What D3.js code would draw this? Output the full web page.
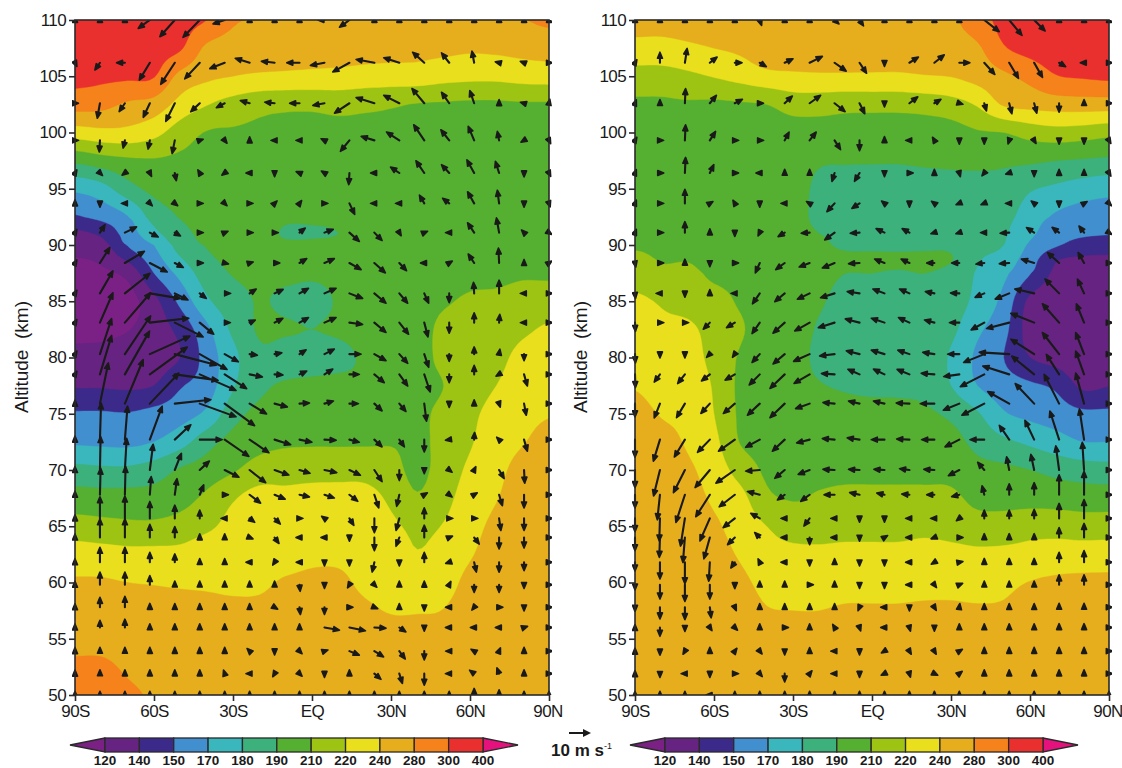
<!DOCTYPE html>
<html><head><meta charset="utf-8">
<script src="https://cdn.jsdelivr.net/npm/d3@7"></script>
<style>html,body{margin:0;padding:0;background:#fff}svg{display:block}
text{font-family:"Liberation Sans",Arial,sans-serif;fill:#1a1a1a}</style></head>
<body><svg id="c" width="1122" height="768"></svg>
<script>
// Colour-scale boundaries (K) and colours
const levels=[120,140,150,170,180,190,210,220,240,280,300,400];
const bandColors=["#662382","#3C2A8B","#428FCF","#3AB7BD","#3CB17C","#55AF30","#9DC313","#E9DF1C","#E6AE1D","#F5821A","#EA302E"];
const lowTip="#7B2186", highTip="#E5127E";
const latTicks=[-90,-60,-30,0,30,60,90];
const latLabels=["90S","60S","30S","EQ","30N","60N","90N"];
const altTicks=[50,55,60,65,70,75,80,85,90,95,100,105,110];

// Temperature grid latitudes (every 10 deg) and altitudes
const tempLat=d3.range(-90,91,10);
const tempAltA=[110,107.5,105,102.5,100,97.5,95,92.5,91,90,87.5,85,82.5,80,77.5,75,72.5,70,67.5,65,62.5,60,57.5,55,52.5,50];
const tempAltB=[110,107.5,105,102.5,100,97.5,95,92.5,91,90,88.75,87.5,85,82.5,80,77.5,75,72.5,70,67.5,65,62.5,60,57.5,55,52.5,50];

// Left panel temperatures, one list per latitude, top to bottom
const tempA=[
[390,360,330,288,230,194,172,149,135,126,112,106,114,126,138,152,167,183,199,214,230,244,258,270,283,290],
[385,355,320,286,234,201,176,156,142,132,116,108,114,128,138,152,166,182,198,213,228,244,256,268,283,287],
[380,350,315,274,234,206,186,169,159,151,126,112,119,131,137,151,165,182,198,212,226,240,254,264,276,282],
[365,335,305,264,226,208,195,184,177,170,150,134,130,132,140,156,170,185,198,212,226,239,252,262,272,278],
[330,310,268,233,215,206,198,191,187,184,173,155,143,140,149,162,176,192,203,214,226,238,250,260,268,276],
[300,272,248,221,209,205,201,196,194,191,185,178,165,158,160,172,186,199,212,218,232,238,248,258,266,274],
[282,262,240,216,208,204,202,198,197,195,191,186,182,177,179,186,197,208,219,226,231,237,246,256,264,272],
[280,264,237,213,207,204,201,198,197,196,193,191,192,188,188,195,204,214,228,229,232,237,248,260,268,274],
[276,260,236,212,206,202,199,193,189,193,194,188,192,186,192,198,207,216,225,229,232,244,254,262,270,276],
[274,258,235,212,205,201,198,193,189,193,193,186,190,185,195,202,208,216,228,231,236,248,256,264,270,276],
[274,258,234,213,205,201,198,194,190,194,195,192,193,187,196,202,208,216,229,232,237,246,256,264,270,276],
[274,256,232,212,206,202,199,197,196,197,198,198,197,193,194,201,208,216,228,233,235,237,246,260,268,274],
[274,254,231,211,207,203,200,198,198,198,199,200,201,201,203,205,209,213,218,224,229,234,239,254,264,272],
[274,252,231,209,205,202,200,199,199,200,201,202,203,204,205,207,208,206,211,218,221,230,239,252,262,270],
[276,250,227,208,205,202,201,200,200,201,203,208,212,212,210,212,212,214,217,221,227,232,241,252,262,270],
[276,246,225,207,204,202,201,201,202,203,206,211,213,215,216,218,219,224,229,233,238,252,262,270,275,278],
[276,248,225,207,204,202,202,203,204,205,208,211,214,217,220,226,231,235,239,250,260,268,274,278,278,279],
[279,252,228,208,205,203,203,204,205,206,209,212,218,226,230,235,239,252,260,268,272,276,278,278,278,278],
[283,256,229,208,206,204,204,205,206,207,208,214,223,228,233,239,250,260,266,270,274,276,278,278,278,278]];

// Right panel temperatures
const tempB=[
[256,233,216,207,206,205,205,206,207,208,212,215,224,228,234,239,250,256,260,264,266,268,270,272,272,274,274],
[254,233,216,207,206,205,205,205,206,207,209,212,219,224,230,234,239,250,256,260,264,266,268,270,272,272,274],
[260,236,218,208,206,205,204,204,205,206,209,212,216,224,228,232,235,238,246,254,260,264,268,270,272,274,274],
[268,240,221,207,205,203,202,202,203,204,205,207,213,216,217,219,220,225,231,237,246,254,260,264,268,272,274],
[274,248,227,208,204,202,201,201,202,203,204,206,208,211,208,206,207,209,216,226,232,238,248,256,262,268,272],
[278,264,234,210,203,200,199,198,198,199,200,200,201,201,200,200,201,204,207,212,220,228,235,242,254,264,272],
[278,268,236,214,202,199,198,196,196,197,198,198,198,198,197,196,199,202,206,209,215,226,233,240,252,262,270],
[278,268,237,214,202,192,188,188,190,194,198,195,192,189,188,191,197,202,206,211,216,224,232,240,252,262,270],
[276,266,237,213,201,191,188,187,188,188,195,190,187,186,186,189,196,201,206,212,216,226,233,244,254,264,270],
[274,262,237,213,200,191,187,186,187,188,194,190,187,186,186,188,196,201,206,212,216,226,233,244,254,264,270],
[272,260,237,213,200,191,187,186,186,187,195,189,187,185,185,188,195,201,206,212,216,226,233,244,254,264,270],
[272,260,239,214,200,192,187,185,186,188,194,190,186,184,184,187,193,200,206,212,217,228,234,246,256,264,270],
[274,264,241,216,202,193,187,185,185,188,191,187,185,182,179,180,188,197,204,212,216,226,234,246,256,264,270],
[290,274,254,222,208,194,187,184,183,183,181,179,177,172,166,170,181,187,196,205,214,224,233,244,254,262,268],
[335,298,272,244,210,193,187,183,181,180,176,172,164,156,150,159,171,182,194,204,214,225,236,244,254,262,268],
[385,335,286,252,214,193,181,175,172,167,159,151,135,131,140,153,165,178,190,203,216,227,241,252,260,266,270],
[395,360,299,258,216,190,178,167,158,152,141,135,127,126,132,148,160,174,187,202,216,229,246,254,260,266,270],
[395,375,310,260,215,189,175,161,153,146,137,131,125,123,126,136,154,170,185,200,215,229,248,254,260,266,270],
[395,380,320,260,213,188,173,160,151,145,136,130,124,122,125,139,154,170,184,200,215,230,248,256,262,268,270]];

// Wind vector grid: 20 latitudes, 25 altitudes
const windLat=d3.range(20).map(i=>-90+i*180/19);
const windAlt=[110,106.2,102.6,99.3,96.4,93.7,91.1,88.4,85.7,83.1,80.3,78.5,75.9,72.7,70,67.8,65.7,64,61.8,59.8,57.8,56,53.9,51.9,50];

// Left panel winds (m/s, vertical already magnified as drawn), one list per altitude
const uA=[
[0,0,0,-5.3,-6.8,-7.6,-5.3,0,0,0,-3,-4.5,0,0,0,0,0,0,0,0],
[.5,-2.3,-3.8,-4.8,-6.4,-6.8,-6.8,-6.5,-6,-5.8,-6.4,-7.6,-8.3,-7.1,-5.3,-3.5,-1,-.8,-.8,.5],
[.4,-1.2,-2.6,-3,-4.1,-4.1,-3.8,-4.2,-4.5,-4.5,-5.3,-6.8,-8.3,-7.1,-5.6,-3.5,-2,0,-.7,.2],
[.5,-.3,-.8,-.8,-1.2,.6,.4,0,-.5,-.5,-.6,-4.1,-6,-5.8,-4.8,-3.8,-2.7,-.8,-.5,.3],
[.3,.4,-.4,.3,.7,-.3,-.4,-.6,0,-.5,-.5,-.3,-.7,-4,-3.8,-3.5,-3.3,-1.7,0,.3],
[0,0,-.5,.3,.5,.5,.2,.4,.3,.3,.4,2.4,-.7,-.7,-2.2,-3,-3,-.8,0,.2],
[.3,2.3,5.3,3.8,2.6,.6,.5,.6,.7,2.6,4,4.5,3.5,.3,.5,-.6,-3,-1.2,-.4,.3],
[.3,4.5,8.9,7.9,3.9,.6,.8,.7,2,3.3,4.5,5.3,5,3.3,-.7,.5,-2.7,-.3,0,.3],
[.3,5.9,11.4,13.9,6,3,2.7,3,3.9,4.1,5.3,6,5.3,3.8,2,0,-.3,0,-.7,.4],
[.3,5.9,11.7,17.7,12.9,6.4,2.5,2.6,3.8,4.1,5.3,6,5.3,4.2,1.7,0,0,.3,-.6,.3],
[.3,5.3,11.7,18.2,18.9,12.4,6.2,3.5,3.3,3,4.5,5.3,5.3,3.8,2,0,0,.3,0,.3],
[.3,5.3,11.2,17,19.7,16.5,10,5.8,3.8,3.3,3.8,4.5,4.5,3.8,2.7,0,0,-.5,1.5,.3],
[0,3.8,8.3,13.2,16.4,16.5,13.6,7.7,5.8,4.5,4.1,4.1,3.5,3,1,0,0,.2,1,.3],
[0,.5,1.2,5.6,7.3,10.2,11,8.8,7.3,5.6,5.3,4.5,3.5,2.3,0,-.7,.2,-.3,1.5,.3],
[0,.3,.8,1.5,3,4.4,6.5,7.3,6.5,4.8,5.6,5,3.5,0,0,.5,.3,2.3,.3,.3],
[0,.3,.3,.6,1,1.8,.7,5,4.8,4.5,4.5,3.8,2,-1.2,.5,.5,.5,1.5,0,.3],
[0,0,0,0,0,0,-.6,2.3,2.6,.4,-.4,2,0,-1.5,0,.6,.6,.8,0,.3],
[0,0,0,0,0,0,0,.5,2,-.5,-.5,0,0,-1.5,0,.5,2.3,0,0,.3],
[0,0,0,0,0,0,0,-.6,-.2,-.3,0,0,-1,0,0,-.6,1,0,0,.3],
[0,0,0,0,0,0,0,0,0,.3,0,-.3,.3,0,0,.3,0,0,0,.3],
[0,0,0,0,0,0,0,0,.5,.4,0,.5,.5,0,0,-.6,-.4,.7,0,.3],
[0,0,0,0,0,0,0,0,0,0,6.8,7.3,5.3,3,0,-.7,-.7,-.7,.6,.3],
[0,0,0,0,0,0,0,-.4,0,.4,.6,4.5,4.2,2.7,0,-.5,-.5,.2,0,.3],
[0,0,0,0,0,0,-.2,-.6,-.3,.4,0,0,3,1.4,0,-.7,-2,-1,0,.3],
[0,0,0,0,0,0,0,0,0,0,0,0,0,0,0,0,0,0,0,0]];
const wA=[
[.6,.6,.6,-3.8,-7.6,-7.9,-1.8,.6,.6,.6,0,-3.3,.6,.6,.6,.6,.6,.6,.6,.6],
[-1,-3.3,0,-7.9,-9.8,-7.3,-2.7,2,.7,0,-1.2,-4.2,1.5,2.3,4.8,4.5,5.3,.2,.3,0],
[0,-6.8,-3.8,-6.4,-8.3,-3.9,-2,1.2,.5,0,-1,-4.5,2.6,3.6,6.7,5,5.8,.6,.2,1],
[0,-5.3,-3.5,-4,-6,.2,-.5,.5,0,0,.3,-5,1.8,3.8,7.1,4.8,6.4,4.1,-.3,-.6],
[.5,-.4,-.3,-.6,-3.5,.5,-.3,0,-.7,.2,.3,-5.3,0,2.7,5.6,3.8,6,5.3,-.8,-.6],
[.5,-.7,0,-.3,-.4,0,-.2,0,.3,.4,0,-5,0,0,3.8,2.3,5.3,6,-.7,-.6],
[.5,3.6,2.6,-2,-1.5,0,.2,0,0,2.1,1.5,-4,-3.6,-.5,.2,0,4.5,6.7,.4,-.2],
[.5,7.1,5.3,-4.1,-2,0,-.2,.2,0,2,2,-3,-4.5,-3.5,0,.3,4.1,6.8,.5,.2],
[.5,10.2,9.1,-2.3,-3,-2.3,0,2,1.8,2.3,2.3,-2.3,-4.5,-4.5,-4.5,-4.2,5,6,0,0],
[.5,13.6,13.6,2,-6.5,-5.3,0,1.2,2,2.3,2.3,-.8,-4.5,-5.3,-6.5,-4.8,4.5,3.8,0,0],
[.5,16.2,17.4,8.2,-5,-7,-3.5,-.5,.6,2,2.3,0,-3,-4.2,-6,-3.3,3.3,1.8,-3,0],
[.5,17.7,19.7,12.4,-2.7,-7.3,-6.5,-1.2,-.3,1.5,2.4,0,-3.8,-5.3,-8,-3.8,4.1,-.3,-5.3,0],
[.5,18.5,20,13.9,1.8,-6,-10,-4.7,-1.5,.3,1.2,0,-3.3,-3.6,-8,-.7,.7,-.6,-5.3,0],
[.5,16.7,15.2,15.2,6.8,0,-7.6,-6,-2.3,-1.2,-.3,-1.2,-3.3,-3.3,-5.6,-.1,3.3,.3,-5.3,0],
[.5,15.2,14.4,11.7,7.6,4.1,-3.3,-5.8,-2.3,-1.5,-1.2,-2.4,-5.3,-4.8,-.7,-.4,.6,-3.9,-6,0],
[.5,12.1,12.9,8.3,7.3,4.5,0,-3.8,-2,-1,-1.5,-3,-6,-5.3,.3,-.4,.3,-5,-6,0],
[.5,9.8,10.2,7.7,6,3.8,0,-1.8,-2.6,0,.3,-3.2,-6.5,-5.5,4.8,0,0,-5.5,-5.5,0],
[.5,8.5,8.5,6,5,.6,.7,-.2,-2.7,0,0,-.6,-6,-4,5.6,.2,-3,-5.2,-4.8,0],
[.5,6.8,6.8,4.5,3.8,.7,.7,0,-.3,0,-.7,-.7,-4.5,-.7,4.5,-.2,-4.5,-4.5,-3.8,0],
[.5,5.8,5.8,4.2,.7,.7,.7,.7,.7,-3,-.7,-.5,-.3,.7,.6,.6,-3.5,-3.5,-.7,0],
[.5,4.5,5,.8,.7,.7,.7,.7,-.3,-3.3,-3.3,0,-.2,.7,-.7,0,-.5,0,-.7,0],
[.5,3.3,3.8,.7,.7,.7,.7,.7,.7,.7,-1.2,-1.5,-.3,-2,-.7,0,0,0,.2,0],
[.5,.8,.8,.7,.7,.7,.7,.4,-.7,-.4,.2,-1.8,-2.6,-3.6,-4,0,.3,.5,.7,0],
[.5,.8,.7,.7,.7,.7,.6,0,-.5,-.4,-.7,.7,-2.6,-4.5,-5.3,0,1.5,2.7,.7,0],
[.7,.7,.7,.7,.7,.7,.7,.7,.7,.7,.7,.7,.7,.7,.7,.7,3,2,.7,.7]];

// Right panel winds
const uB=[
[0,0,0,0,0,.8,0,0,2,1.8,0,0,0,0,6.8,5.8,5,0,0,0],
[.3,0,1,3.3,3.3,3,3.8,5.8,5.3,3.2,0,4.1,4.5,4.8,4.8,4.2,3.8,3,-.7,.5],
[.2,0,.3,3,3.5,.7,3.5,5,4.8,2.4,0,3.8,3,.7,1,1.2,1.2,0,0,.5],
[.3,.6,.3,2.6,.8,.8,2,3,2.7,0,0,-.7,-.3,0,0,-.2,.3,0,0,.3],
[.2,.7,.3,1.8,.7,-.7,0,0,-1.2,-2.3,0,.7,0,.2,-.4,-.6,0,0,0,.3],
[.2,.7,0,.5,-.3,0,-.7,-.5,-3.5,-3.5,-.5,0,-.4,-.5,-.5,-.7,-.5,0,.5,.3],
[.2,.7,0,0,0,-.3,-3,-3.8,-4.5,-4.2,-3.8,-3.3,-.6,-.6,-.7,-4.1,-3.5,-3.2,-2.3,.3],
[.2,.7,0,0,.7,-2,-4.1,-4.8,-5.6,-5,-4.5,-3.8,-3.5,-3.5,-3.8,-4.5,-5.8,-5.3,-2.7,.3],
[.2,-.8,0,0,-.7,-3.3,-4.5,-5.6,-6.4,-5.6,-5.3,-4.5,-4.1,-4,-4.2,-6.4,-8.8,-6.4,-3,.3],
[.2,.8,.7,-3,-3.8,-3.5,-5.3,-6.8,-7.4,-6.5,-6,-5,-4.5,-4.5,-6,-10.3,-10.6,-7.6,-3.5,.3],
[.2,0,0,-1,-.5,-3.5,-5.3,-7.3,-6.8,-6,-6,-5.3,-5.3,-5.3,-9.4,-13.6,-10.6,-7.6,-3.8,.3],
[.2,-2.6,-3.3,-3.8,-4.4,-4.8,-6.7,-7.1,-6,-5.3,-5,-5.6,-6,-7.1,-10.9,-12,-10.2,-5.8,-3.8,.3],
[0,-2.6,-3.8,-4.1,-5.2,-5.6,-6.7,-6.4,-5.3,-5,-5,-6,-6.4,-7.3,-10.2,-9.8,-8.6,-6.8,-3.8,.3],
[0,-3,-4.8,-5.6,-7.4,-6.4,-5.6,-5.9,-5.6,-5.6,-6,-5.8,-5.8,-6.5,-6.5,-4.5,-4.2,-4.2,-2.1,.3],
[0,-2.9,-5.2,-6.7,-8.6,-6.4,-4.5,-5.2,-5.3,-5,-4.8,-4.5,-4.8,-5,-3,-1.2,-1.5,-1.5,-.8,.3],
[0,-1.2,-4.1,-6.4,-7.1,-5.6,-3.3,-4.1,-4.8,-4.5,-3.5,-3.5,-3.5,-3.5,-1,0,0,0,0,.3],
[0,-.3,-2,-4.5,-5.3,-4.1,-.7,-2.6,-.7,0,0,-.7,-.7,-.5,0,0,0,0,0,.3],
[0,-.3,-.9,-2.7,-3.3,-2.3,-.7,0,-.7,0,.5,-.7,-.5,.7,0,0,0,0,0,.3],
[0,0,0,-.5,-1.8,-.3,-.7,0,0,0,0,-.7,-.5,.6,0,0,0,0,0,.3],
[0,0,0,0,0,0,0,.7,0,0,0,-.7,.3,.5,0,0,0,0,0,.3],
[0,0,0,.6,.3,0,0,0,0,-.3,-.7,0,.3,.1,0,0,0,0,0,.3],
[0,0,0,.4,.5,0,.7,0,-.3,.2,-.7,.2,0,0,0,0,0,0,0,.3],
[0,0,-.3,0,.3,.4,0,0,-.7,0,-.5,.3,.3,.5,0,0,0,0,0,.3],
[0,0,-.7,0,.7,.5,0,.4,-.7,0,-.6,.2,.6,.5,0,0,0,0,0,.3],
[0,0,0,-.7,0,0,0,0,0,0,0,0,0,0,0,0,0,0,0,0]];
const wB=[
[.6,.6,.6,.6,.6,-2.3,.6,.6,-1.8,-2.7,.6,.6,.6,.6,-5.3,-7,-5,.6,.6,.6],
[.5,4.8,6.5,2.6,0,-1.8,1.8,2.9,-3.8,-4.8,-.7,2.6,3.6,0,-5.3,-7.1,-6.7,-1.8,0,0],
[.5,.7,6.7,3.6,1.8,0,3.3,3.6,-3.8,-4.8,-.7,2.9,1.8,-.2,-3.5,-4.8,-4.5,-4.1,.7,0],
[.5,0,7.1,4.1,0,0,3.8,3.8,-4.2,-4.7,.7,0,.5,-.7,-.7,-.6,-.5,-.7,-.7,-.5],
[.5,0,7.1,3.8,0,0,.7,.7,-3.8,-3.8,-.7,0,.6,-.7,-.5,-.2,-.7,.6,.7,-.5],
[.5,0,6.4,.3,.5,-.7,0,.3,-3.8,-2.3,.4,-.7,.3,-.2,-.2,0,.4,-.7,.3,-.3],
[.5,0,5,.7,-.7,-.6,-1.8,-.3,-3.3,-.3,1.8,1.8,-.2,-.2,0,-.3,2.3,2.4,3,-.2],
[-1,0,.8,-.7,0,-4.5,-3,-1.8,-2.3,-.3,1.8,1.8,0,0,-.5,-.3,1.8,4.8,4.8,0],
[-2,0,-.7,.7,0,-4.8,-3.8,-2.7,-2,.8,2,2,.8,.2,-1.8,-2.6,2,6.5,6.5,0],
[-4,0,0,-3,-2.3,-5,-4.8,-3.8,-2.3,1.7,2,2.3,1.2,0,-3.3,-2.7,4.2,8.6,8.6,0],
[-4,-.7,-.7,-1,-.7,-3.8,-4.5,-3.3,-.8,1.5,1.8,1.8,.8,0,-3.8,.8,6.8,9.8,9.8,0],
[-6,-3.5,-4.2,-3,-2.6,-4.8,-6.4,-4.1,.4,2.3,2.4,2.3,.5,-1,-5.6,3.8,8.3,9.1,10.6,0],
[-6,-6.5,-6.4,-4.5,-4.5,-5.3,-6.4,-2.3,.5,1.2,1.2,.3,0,-3,-5.3,5.5,9.1,13.3,13.9,0],
[-8,-9.8,-7.9,-5.8,-5.3,-3.5,-5.3,-1.5,.5,.8,0,.3,0,-3.3,0,6.5,8.8,13,14,0],
[-8,-11.8,-10.3,-8,-6,-.5,-3.8,-2,.3,.3,.3,.6,.3,-2.6,3.5,6,7.1,11,12.6,0],
[-6,-11.4,-12.6,-10,-5.5,1.5,-2.4,-3,0,1,.8,.3,0,-.9,4.1,5,5.5,9.1,10.6,0],
[-6,-10.3,-12.6,-10.3,-4.2,2.3,0,-3.5,0,-.7,-.7,0,0,-.4,3.8,3.8,4.1,6.8,8.6,0],
[-6,-9,-11.4,-9.7,-3.3,2.3,0,-3.3,0,-.7,.3,0,-.2,0,.8,.8,.8,4.5,6.4,0],
[-4,-7.6,-9.8,-8.6,-2.6,.6,0,-.7,.7,-.7,-.7,0,-.3,.1,.8,.8,.8,4.5,5.3,0],
[-2,-6.5,-7.6,-6.5,-.8,.7,.7,0,.7,-.7,-.7,0,-.4,.2,.7,.7,.7,4.5,4.5,0],
[-1,-5.3,-5.6,-4.8,-.7,.7,.7,.7,.7,-.7,0,-.7,-.5,.7,.7,.7,.7,.9,.9,0],
[0,-4,-.9,-.6,-.5,.7,0,.7,.5,-.6,0,-.7,-.7,.7,.7,.7,.7,.8,.8,0],
[0,-.9,-.5,.7,.4,-.5,-.8,.6,0,-.7,-.3,-.5,-.5,.3,.7,.7,.7,.7,.7,0],
[0,-.8,0,-.7,0,-.6,-3.8,.5,0,-.7,-.3,-.7,-.3,.4,.7,.7,.7,.7,.7,0],
[.7,.7,.7,0,.7,.7,.7,.7,.7,.7,.7,.7,.7,.7,.7,.7,.7,.7,.7,.7]];

const svg=d3.select("#c");
const FS=17;
const tempToPos=d3.scaleLinear().domain(levels).range(d3.range(levels.length));
const speed=d3.scaleLinear().domain([0,10]).range([0,22]);

function catmull(a,b,c,d,t){return .5*((2*b)+(-a+c)*t+(2*a-5*b+4*c-d)*t*t+(-a+3*b-3*c+d)*t*t*t);}
function refine(rows,k){ // rows[r][c] -> finer rows for smooth contour rendering
  const along=(arr)=>{const out=[];const n=arr.length;
    for(let i=0;i<n-1;i++){for(let j=0;j<k;j++){
      out.push(catmull(arr[Math.max(i-1,0)],arr[i],arr[i+1],arr[Math.min(i+2,n-1)],j/k));}}
    out.push(arr[n-1]);return out;};
  const r1=rows.map(along);
  const cols=d3.range(r1[0].length).map(c=>along(r1.map(r=>r[c])));
  return cols; // indexed [c][r]
}

function panel(id,x0,x1,temps,alts,U,W,barX,labelX){
  const g=svg.append("g");
  const x=d3.scaleLinear().domain([-90,90]).range([x0,x1]);
  const y=d3.scaleLinear().domain([50,110]).range([695,20]);
  const clip=`clip${id}`, clipA=`clipA${id}`;
  const defs=svg.append("defs");
  defs.append("clipPath").attr("id",clip).append("rect").attr("x",x0).attr("y",20).attr("width",x1-x0).attr("height",675);
  defs.append("clipPath").attr("id",clipA).append("rect").attr("x",x0-3).attr("y",20).attr("width",x1-x0+6).attr("height",675);
  // contours
  const nc=temps.length,nr=temps[0].length,k=6;
  const rows=d3.range(nr).map(r=>temps.map(col=>tempToPos(col[r])));
  const cols=refine(rows,k);
  const nx=cols.length,ny=cols[0].length;
  const flat=new Float64Array(nx*ny);
  for(let j=0;j<ny;j++)for(let i=0;i<nx;i++)flat[j*nx+i]=cols[i][j];
  const latOf=d3.scaleLinear().domain([0,nc-1]).range([tempLat[0],tempLat[nc-1]]);
  const altOf=d3.scaleLinear().domain(d3.range(nr)).range(alts);
  const gen=d3.contours().size([nx,ny]);
  const proj=p=>[x(latOf(Math.max(0,Math.min(nc-1,(p[0]-.5)/k)))),y(altOf(Math.max(0,Math.min(nr-1,(p[1]-.5)/k))))];
  const layer=g.append("g").attr("clip-path",`url(#${clip})`);
  layer.append("rect").attr("x",x0).attr("y",20).attr("width",x1-x0).attr("height",675).attr("fill",lowTip);
  const line=d3.line();
  bandColors.forEach((col,i)=>{
    const c=gen.contour(flat,i);
    const dStr=c.coordinates.map(poly=>poly.map(ring=>line(ring.map(proj))+"Z").join("")).join("");
    layer.append("path").attr("d",dStr).attr("fill",col).attr("fill-rule","evenodd").attr("stroke",col).attr("stroke-width",.4);
  });
  // arrows
  const ag=g.append("g").attr("clip-path",`url(#${clipA})`);
  const shafts=d3.path(), heads=d3.path();
  windAlt.forEach((alt,r)=>windLat.forEach((lat,c)=>{
    const px=x(lat),py=y(alt);
    let dx=speed(U[r][c]),dy=-speed(W[r][c]);
    const L=Math.hypot(dx,dy);
    const ux=L?dx/L:0,uy=L?dy/L:-1;
    const hl=6,hw=2.5;
    let tipx,tipy;
    if(L<hl){tipx=px+ux*(hl/2+L/2);tipy=py+uy*(hl/2+L/2);}
    else{tipx=px+dx;tipy=py+dy;
      shafts.moveTo(px,py);shafts.lineTo(tipx-ux*(hl-1),tipy-uy*(hl-1));}
    const bx=tipx-ux*hl,by=tipy-uy*hl;
    heads.moveTo(tipx,tipy);heads.lineTo(bx-uy*hw,by+ux*hw);heads.lineTo(bx+uy*hw,by-ux*hw);heads.closePath();
  }));
  ag.append("path").attr("d",shafts.toString()).attr("fill","none").attr("stroke","#1a1a1a").attr("stroke-width",2.1).attr("stroke-linecap","round");
  ag.append("path").attr("d",heads.toString()).attr("fill","#1a1a1a").attr("stroke","#1a1a1a").attr("stroke-width",1.6).attr("stroke-linejoin","round");
  // frame
  g.append("rect").attr("x",x0).attr("y",20).attr("width",x1-x0).attr("height",675).attr("fill","none").attr("stroke","#2a2a2a").attr("stroke-width",1.6);
  // axes
  const ya=g.append("g").attr("transform",`translate(${x0},0)`).call(d3.axisLeft(y).tickValues(altTicks).tickSize(6).tickPadding(3));
  const xa=g.append("g").attr("transform","translate(0,695)").call(d3.axisBottom(x).tickValues(latTicks).tickFormat((d,i)=>latLabels[i]).tickSize(6).tickPadding(4));
  [ya,xa].forEach(a=>{a.select(".domain").remove();
    a.selectAll("line").attr("stroke","#2a2a2a").attr("stroke-width",1.6);
    a.selectAll("text").attr("font-size",FS).attr("fill","#1a1a1a").attr("font-family","Liberation Sans").attr("letter-spacing",-.6);});
  xa.selectAll("text").filter((d)=>d===90).attr("dx",-1.5);
  g.append("text").attr("transform",`translate(${labelX},357) rotate(-90)`).attr("text-anchor","middle").attr("font-size",19).style("white-space","pre").text("Altitude  (km)");
  // colour bar
  const bw=d3.scaleLinear().domain([0,bandColors.length]).range([barX,barX+378]);
  const by0=738,by1=752;
  const bar=g.append("g");
  bar.append("path").attr("d",d3.line()([[bw(0),by0],[bw(0)-35,(by0+by1)/2],[bw(0),by1]])+"Z").attr("fill",lowTip).attr("stroke","#2a2a2a").attr("stroke-width",1.3);
  bar.append("path").attr("d",d3.line()([[bw(11),by0],[bw(11)+35,(by0+by1)/2],[bw(11),by1]])+"Z").attr("fill",highTip).attr("stroke","#2a2a2a").attr("stroke-width",1.3);
  bar.selectAll("rect").data(bandColors).join("rect").attr("x",(d,i)=>bw(i)).attr("y",by0).attr("width",(d,i)=>bw(i+1)-bw(i)).attr("height",by1-by0).attr("fill",d=>d).attr("stroke","#2a2a2a").attr("stroke-width",1.3);
  bar.selectAll("text").data(levels).join("text").attr("x",(d,i)=>bw(i)).attr("y",765).attr("text-anchor","middle").attr("font-size",13.5).attr("font-weight","600").text(d=>d);
}
panel("A",75,549,tempA,tempAltA,uA,wA,105,28);
panel("B",635,1109,tempB,tempAltB,uB,wB,665,587);

// reference vector
const refG=svg.append("g");
const rx=569,ry=733,rl=speed(10);
refG.append("path").attr("d",d3.line()([[rx,ry],[rx+rl-6,ry]])).attr("stroke","#1a1a1a").attr("stroke-width",2);
refG.append("path").attr("d",d3.line()([[rx+rl,ry],[rx+rl-8,ry-4],[rx+rl-8,ry+4]])+"Z").attr("fill","#1a1a1a");
const t=refG.append("text").attr("x",551).attr("y",756).attr("font-size",17).attr("font-weight","700");
t.append("tspan").text("10 m s");
t.append("tspan").attr("dy",-7).attr("font-size",9).attr("font-weight","400").text("-1");
</script></body></html>
